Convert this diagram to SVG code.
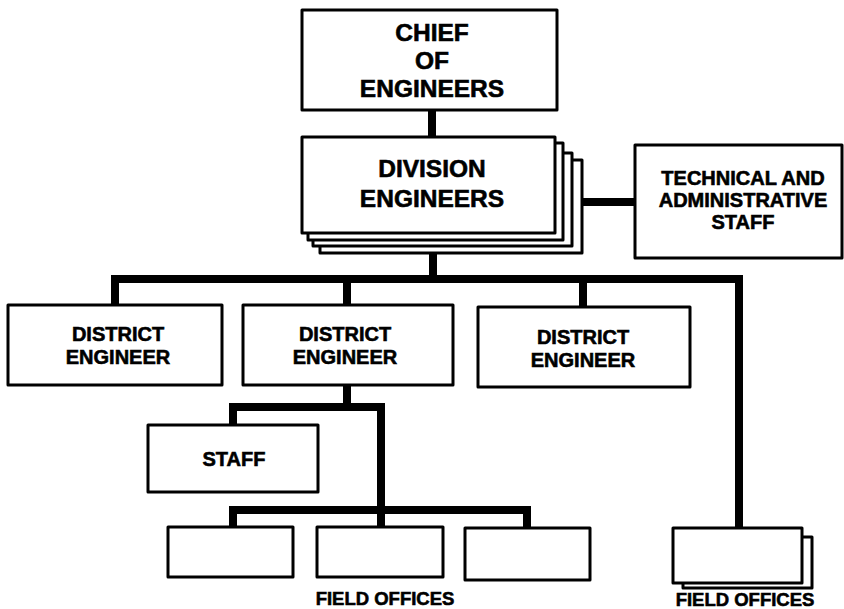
<svg xmlns="http://www.w3.org/2000/svg" width="844" height="609" viewBox="0 0 844 609">
<style>
.box{fill:#fff;stroke:#000;stroke-width:3;stroke-linejoin:round}
.con{fill:none;stroke:#000;stroke-width:8;stroke-linejoin:miter}
text{font-family:"Liberation Sans",Arial,sans-serif;font-weight:700;fill:#000;stroke:#000;stroke-width:0.6;text-anchor:middle}
.big{font-size:24.5px}
.mid{font-size:20px}
.sm{font-size:18.5px}
</style>
<rect width="844" height="609" fill="#fff"/>
<g id="connectors">
<path class="con" d="M432 110 V137"/>
<path class="con" d="M582 202 H635"/>
<path class="con" d="M433 251 V279"/>
<path class="con" d="M115 305 V279 H739 V528"/>
<path class="con" d="M347 305 V279"/>
<path class="con" d="M583 307 V279"/>
<path class="con" d="M347 385 V407"/>
<path class="con" d="M233 425 V407 H381 V527"/>
<path class="con" d="M233 527 V510 H527 V528"/>
</g>
<g id="chief">
<rect class="box" x="302" y="10" width="255" height="100"/>
<text class="big" x="432" y="41">CHIEF</text>
<text class="big" x="432" y="69">OF</text>
<text class="big" x="432" y="97">ENGINEERS</text>
</g>
<g id="division">
<rect class="box" x="320" y="160" width="262" height="93"/>
<rect class="box" x="313" y="153" width="259" height="93"/>
<rect class="box" x="308" y="143" width="255" height="97"/>
<rect class="box" x="302" y="137" width="253" height="96"/>
<text class="big" x="432" y="177">DIVISION</text>
<text class="big" x="432" y="207">ENGINEERS</text>
</g>
<g id="technical">
<rect class="box" x="635" y="145" width="207" height="113"/>
<text class="mid" x="743" y="185">TECHNICAL AND</text>
<text class="mid" x="743" y="207">ADMINISTRATIVE</text>
<text class="mid" x="743" y="229">STAFF</text>
</g>
<g id="district1">
<rect class="box" x="8" y="305" width="214" height="80"/>
<text class="mid" x="118" y="341">DISTRICT</text>
<text class="mid" x="118" y="364">ENGINEER</text>
</g>
<g id="district2">
<rect class="box" x="243" y="305" width="210" height="80"/>
<text class="mid" x="345" y="341">DISTRICT</text>
<text class="mid" x="345" y="364">ENGINEER</text>
</g>
<g id="district3">
<rect class="box" x="478" y="307" width="212" height="80"/>
<text class="mid" x="583" y="344">DISTRICT</text>
<text class="mid" x="583" y="367">ENGINEER</text>
</g>
<g id="staff">
<rect class="box" x="148" y="425" width="170" height="67"/>
<text class="mid" x="234" y="466">STAFF</text>
</g>
<g id="field-offices">
<rect class="box" x="168" y="527" width="125" height="50"/>
<rect class="box" x="317" y="527" width="126" height="50"/>
<rect class="box" x="465" y="528" width="125" height="52"/>
<text class="sm" x="385" y="605">FIELD OFFICES</text>
</g>
<g id="field-offices-right">
<rect class="box" x="683" y="537" width="129" height="51"/>
<rect class="box" x="673" y="528" width="129" height="55"/>
<text class="sm" x="745" y="606">FIELD OFFICES</text>
</g>
</svg>
